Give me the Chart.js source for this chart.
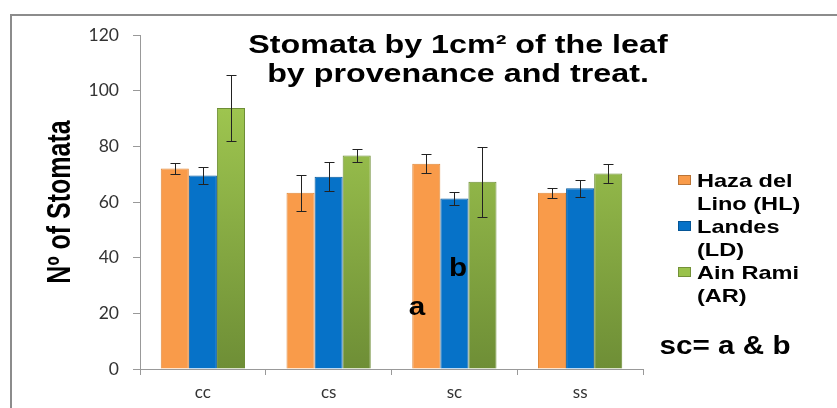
<!DOCTYPE html>
<html>
<head>
<meta charset="utf-8">
<script src="https://cdn.jsdelivr.net/npm/chart.js@4"></script>
<style>
    html, body { margin: 0; padding: 0; background: #fff; overflow: hidden; }
    #wrap { position: relative; width: 837px; height: 408px; }
    #frame { position: absolute; left: 10px; top: 14px; width: 900px; height: 500px;
             border-left: 2px solid #8c8c8c; border-top: 2px solid #8c8c8c; pointer-events: none; }
</style>
</head>
<body>
<div id="wrap">
    <canvas id="myChart" width="837" height="408"></canvas>
    <div id="frame"></div>
</div>
<script>
// Данные графика
const treatments = ['cc', 'cs', 'sc', 'ss'];
const seriesNames = ['Haza del Lino (HL)', 'Landes (LD)', 'Ain Rami (AR)'];
const legendLines = [['Haza del', 'Lino (HL)'], ['Landes', '(LD)'], ['Ain Rami', '(AR)']];
const hazaValues = [72, 63.3, 73.7, 63.3];
const hazaErrors = [2.1, 6.5, 3.4, 1.7];
const landesValues = [69.5, 69.1, 61.3, 64.9];
const landesErrors = [3.1, 5.3, 2.4, 3.1];
const ainRamiValues = [93.8, 76.7, 67.3, 70.2];
const ainRamiErrors = [12, 2.4, 12.6, 3.5];
const yTicks = [0, 20, 40, 60, 80, 100, 120];

const yTitle = 'N\u00BA of Stomata';
const titleLines = ['Stomata by 1cm\u00B2 of the leaf', 'by provenance and treat.'];
const notes = [
    {text: 'a', x: 417, y: 315},
    {text: 'b', x: 458, y: 276},
    {text: 'sc= a & b', x: 725, y: 354}
];

const seriesColors = ['#F99B4A', '#0672C8', '#9AC24B'];
const boldFont = '"Liberation Sans", Arial, sans-serif';

// Градиент для зелёных столбцов
function greenFill(context) {
    const chart = context.chart;
    const area = chart.chartArea;
    if (!area) return seriesColors[2];
    const g = chart.ctx.createLinearGradient(0, area.top, 0, area.bottom);
    g.addColorStop(0, '#ABD456');
    g.addColorStop(1, '#6E8E36');
    return g;
}

// Растянутый по горизонтали текст (как в исходной картинке)
function stretchedText(ctx, text, x, y, sx, align) {
    ctx.save();
    ctx.translate(x, y);
    ctx.scale(sx, 1);
    ctx.textAlign = align;
    ctx.fillText(text, 0, 0);
    ctx.restore();
}

// Планки погрешностей
const errorBars = {
    id: 'errorBars',
    afterDatasetsDraw(chart) {
        const ctx = chart.ctx;
        const yScale = chart.scales.y;
        ctx.save();
        ctx.strokeStyle = '#222';
        ctx.lineWidth = 1;
        chart.data.datasets.forEach((ds, di) => {
            const meta = chart.getDatasetMeta(di);
            meta.data.forEach((bar, i) => {
                const v = ds.data[i];
                const e = ds.errors[i];
                const x = Math.round(bar.x) + 0.5;
                const yTop = Math.round(yScale.getPixelForValue(v + e)) + 0.5;
                const yBot = Math.round(yScale.getPixelForValue(v - e)) + 0.5;
                ctx.beginPath();
                ctx.moveTo(x, yTop);
                ctx.lineTo(x, yBot);
                ctx.moveTo(x - 5, yTop);
                ctx.lineTo(x + 5, yTop);
                ctx.moveTo(x - 5, yBot);
                ctx.lineTo(x + 5, yBot);
                ctx.stroke();
            });
        });
        ctx.restore();
    }
};

// Заголовок, подпись оси, легенда и пометки
const overlayText = {
    id: 'overlayText',
    afterDraw(chart) {
        const ctx = chart.ctx;
        const area = chart.chartArea;
        ctx.save();
        ctx.fillStyle = '#000';
        ctx.textBaseline = 'alphabetic';

        ctx.font = 'bold 25px ' + boldFont;
        stretchedText(ctx, titleLines[0], 458, 53, 1.29, 'center');
        stretchedText(ctx, titleLines[1], 458, 82, 1.29, 'center');

        // подпись оси Y
        ctx.save();
        ctx.font = 'bold 25px ' + boldFont;
        ctx.translate(70, (area.top + area.bottom) / 2);
        ctx.rotate(-Math.PI / 2);
        ctx.scale(1, 1.3);
        ctx.textAlign = 'center';
        ctx.fillText(yTitle, 0, 0);
        ctx.restore();

        ctx.font = 'bold 26px ' + boldFont;
        notes.forEach((n) => stretchedText(ctx, n.text, n.x, n.y, 1.14, 'center'));

        ctx.font = 'bold 19px ' + boldFont;
        let y = 187;
        legendLines.forEach((lines, i) => {
            ctx.fillStyle = chart.data.datasets[i].legendColor;
            ctx.fillRect(678, y - 12, 13, 10);
            ctx.strokeStyle = 'rgba(0,0,0,0.25)';
            ctx.strokeRect(678.5, y - 11.5, 12, 9);
            ctx.fillStyle = '#000';
            lines.forEach((line) => {
                stretchedText(ctx, line, 697, y, 1.24, 'left');
                y += 23;
            });
        });
        ctx.restore();
    }
};

const ctx = document.getElementById('myChart');

new Chart(ctx, {
    type: 'bar',
    data: {
        labels: treatments,
        datasets: [
            {
                label: seriesNames[0],
                data: hazaValues,
                errors: hazaErrors,
                backgroundColor: seriesColors[0],
                legendColor: seriesColors[0],
                borderColor: '#E0883A',
                borderWidth: 1
            },
            {
                label: seriesNames[1],
                data: landesValues,
                errors: landesErrors,
                backgroundColor: seriesColors[1],
                legendColor: seriesColors[1],
                borderColor: '#05599C',
                borderWidth: 1
            },
            {
                label: seriesNames[2],
                data: ainRamiValues,
                errors: ainRamiErrors,
                backgroundColor: greenFill,
                legendColor: seriesColors[2],
                borderColor: '#6E8E36',
                borderWidth: 1
            }
        ]
    },
    options: {
        responsive: false,
        animation: false,
        layout: {
            padding: {top: 35, right: 194, bottom: 0, left: 0}
        },
        categoryPercentage: 0.67,
        barPercentage: 1,
        plugins: {
            legend: {display: false},
            title: {display: false},
            tooltip: {enabled: false}
        },
        scales: {
            x: {
                grid: {display: true, offset: true, drawOnChartArea: false, tickLength: 6, color: '#999'},
                border: {color: '#999'},
                ticks: {color: '#333', font: {family: 'Lato, sans-serif', size: 17}, padding: 7},
                afterFit(scale) { scale.height = 39; }
            },
            y: {
                min: 0,
                max: 120,
                afterBuildTicks(scale) { scale.ticks = yTicks.map((v) => ({value: v})); },
                grid: {drawOnChartArea: false, tickLength: 7, color: '#999'},
                border: {color: '#999'},
                ticks: {color: '#333', font: {family: 'Lato, sans-serif', size: 17.5}, padding: 14},
                afterFit(scale) { scale.width = 140; }
            }
        }
    },
    plugins: [errorBars, overlayText]
});
</script>
</body>
</html>
